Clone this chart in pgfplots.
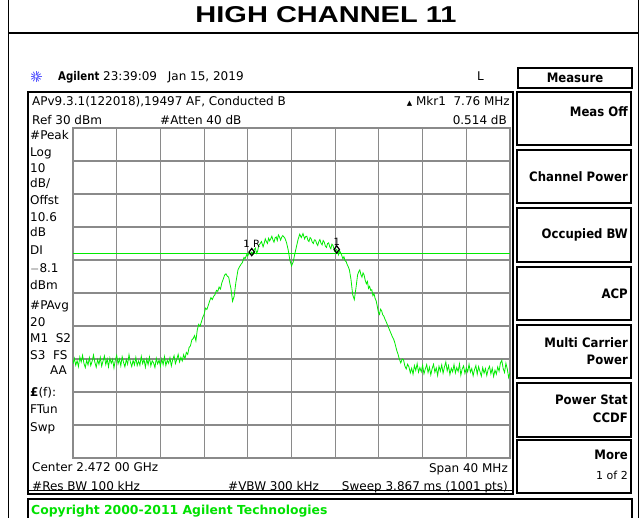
\documentclass[border=0pt]{standalone}
\usepackage{graphicx}
\usepackage{pgfplots}
\pgfplotsset{compat=1.18}
\usepackage{fontspec}
\setmainfont{DejaVu Sans}
\newfontfamily\tf{Liberation Sans}
\definecolor{trace}{RGB}{0,235,0}
\definecolor{gridc}{RGB}{138,138,138}
\definecolor{cgreen}{RGB}{0,225,0}
\definecolor{logo}{RGB}{90,90,255}
\newcommand\st{\fontsize{12}{14}\selectfont}
\newcommand\sk[1]{\scalebox{0.9}[1]{\fontsize{13}{15}\selectfont\bfseries #1}}

\pgfplotstableread{
x y
-20 -41.5
-19.875 -39.8
-19.75 -41.9
-19.625 -40.5
-19.5 -42.3
-19.375 -39.4
-19.25 -40.9
-19.125 -38.9
-19 -41.3
-18.875 -42.6
-18.75 -40.4
-18.625 -41.8
-18.5 -39.6
-18.375 -42.0
-18.25 -40.7
-18.125 -38.8
-18 -41.0
-17.875 -42.5
-17.75 -40.2
-17.625 -41.6
-17.5 -39.5
-17.375 -42.2
-17.25 -40.6
-17.125 -39.1
-17 -41.7
-16.875 -40.0
-16.75 -42.4
-16.625 -39.7
-16.5 -41.3
-16.375 -40.1
-16.25 -42.7
-16.125 -40.3
-16 -38.9
-15.875 -41.5
-15.75 -40.0
-15.625 -42.1
-15.5 -39.3
-15.375 -41.0
-15.25 -42.4
-15.125 -40.2
-15 -41.6
-14.875 -38.7
-14.75 -40.9
-14.625 -42.3
-14.5 -40.4
-14.375 -41.8
-14.25 -39.5
-14.125 -42.0
-14 -40.6
-13.875 -41.9
-13.75 -39.2
-13.625 -41.4
-13.5 -40.1
-13.375 -42.5
-13.25 -40.0
-13.125 -41.7
-13 -39.4
-12.875 -42.1
-12.75 -40.5
-12.625 -41.2
-12.5 -42.6
-12.375 -39.8
-12.25 -41.5
-12.125 -40.3
-12 -42.2
-11.875 -40.0
-11.75 -41.7
-11.625 -39.3
-11.5 -42.0
-11.375 -40.4
-11.25 -41.3
-11.125 -39.6
-11 -42.1
-10.875 -40.2
-10.75 -39.0
-10.625 -41.4
-10.5 -40.1
-10.375 -38.6
-10.25 -40.9
-10.125 -39.5
-10 -40.6
-9.875 -38.7
-9.75 -39.9
-9.625 -38.0
-9.5 -38.6
-9.375 -36.5
-9.25 -36.0
-9.125 -34.2
-9 -33.8
-8.875 -32.9
-8.75 -34.5
-8.625 -31.2
-8.5 -29.5
-8.375 -30.1
-8.25 -28.8
-8.125 -27.4
-8 -26.5
-7.875 -24.6
-7.75 -25.0
-7.625 -23.8
-7.5 -22.5
-7.375 -21.4
-7.25 -22.0
-7.125 -21.0
-7 -20.5
-6.875 -19.2
-6.75 -19.5
-6.625 -18.2
-6.5 -18.8
-6.375 -16.9
-6.25 -15.8
-6.125 -14.6
-6 -14.2
-5.875 -14.9
-5.75 -15.2
-5.65 -17.0
-5.55 -18.5
-5.4 -22.5
-5.25 -21.0
-5.1 -17.0
-4.9 -13.0
-4.75 -12.0
-4.6 -11.2
-4.5 -10.8
-4.35 -9.2
-4.25 -9.6
-4.1 -8.4
-4 -8.8
-3.9 -7.8
-3.8 -8.2
-3.64 -7.6
-3.5 -8.2
-3.4 -6.8
-3.3 -6.4
-3.2 -8.0
-3.1 -7.3
-3 -5.6
-2.9 -5.2
-2.75 -4.4
-2.6 -6.0
-2.5 -4.9
-2.4 -3.6
-2.3 -4.4
-2.2 -5.0
-2.1 -3.4
-2 -4.2
-1.9 -3.6
-1.8 -2.8
-1.7 -3.9
-1.6 -4.6
-1.5 -3.3
-1.4 -3.0
-1.3 -4.1
-1.2 -2.4
-1.1 -3.0
-1 -4.0
-0.9 -3.1
-0.8 -2.6
-0.7 -3.0
-0.6 -3.4
-0.45 -4.8
-0.3 -7.0
-0.15 -10.0
0 -11.8
0.15 -10.6
0.3 -8.2
0.45 -6.0
0.6 -3.8
0.75 -2.2
0.9 -3.2
1.05 -2.0
1.2 -3.6
1.3 -2.9
1.4 -2.8
1.5 -4.0
1.6 -4.4
1.7 -3.2
1.8 -3.6
1.9 -4.6
2 -5.0
2.1 -3.9
2.2 -4.0
2.3 -5.0
2.4 -5.6
2.5 -4.4
2.6 -3.8
2.7 -4.9
2.8 -5.4
2.9 -4.1
3 -4.6
3.1 -5.8
3.2 -6.2
3.3 -5.0
3.4 -4.8
3.5 -6.0
3.6 -6.6
3.7 -5.2
3.8 -5.6
3.95 -7.4
4.14 -6.8
4.3 -8.4
4.4 -7.2
4.5 -7.8
4.6 -8.6
4.7 -9.6
4.8 -9.0
4.9 -10.2
5 -10.5
5.1 -11.4
5.2 -12.1
5.3 -13.0
5.45 -16.0
5.6 -20.5
5.75 -22.0
5.9 -18.5
6.05 -14.5
6.15 -13.6
6.25 -13.0
6.35 -14.4
6.45 -15.2
6.55 -13.9
6.65 -14.6
6.75 -16.2
6.85 -17.2
6.95 -16.5
7.05 -18.6
7.15 -18.0
7.25 -19.2
7.35 -19.0
7.45 -20.8
7.55 -20.2
7.65 -21.6
7.75 -22.4
7.85 -24.0
7.95 -25.8
8.05 -26.5
8.15 -24.9
8.25 -25.4
8.35 -26.6
8.45 -27.0
8.55 -27.9
8.65 -28.6
8.75 -29.4
8.85 -30.2
8.95 -31.0
9.05 -31.8
9.15 -32.6
9.25 -33.4
9.35 -34.0
9.45 -35.0
9.55 -36.3
9.65 -37.6
9.75 -38.5
9.85 -39.8
10 -41.2
10.125 -40.0
10.25 -40.2
10.375 -42.1
10.5 -43.0
10.625 -41.6
10.75 -42.4
10.875 -44.2
11 -42.8
11.125 -44.6
11.25 -42.0
11.375 -43.5
11.5 -41.4
11.625 -44.0
11.75 -42.6
11.875 -43.9
12 -41.9
12.125 -44.5
12.25 -43.0
12.375 -41.7
12.5 -44.1
12.625 -42.5
12.75 -44.8
12.875 -42.9
13 -41.6
13.125 -44.0
13.25 -42.7
13.375 -45.0
13.5 -42.2
13.625 -43.7
13.75 -41.8
13.875 -44.3
14 -42.4
14.125 -40.9
14.25 -43.6
14.375 -42.0
14.5 -44.7
14.625 -42.8
14.75 -43.9
14.875 -41.7
15 -44.2
15.125 -42.6
15.25 -43.8
15.375 -41.5
15.5 -44.9
15.625 -43.0
15.75 -42.1
15.875 -44.4
16 -42.7
16.125 -43.9
16.25 -41.6
16.375 -44.0
16.5 -42.9
16.625 -45.1
16.75 -43.2
16.875 -42.0
17 -44.6
17.125 -42.3
17.25 -43.8
17.375 -45.2
17.5 -42.6
17.625 -44.3
17.75 -42.9
17.875 -45.0
18 -43.1
18.125 -42.2
18.25 -44.5
18.375 -42.8
18.5 -45.3
18.625 -43.4
18.75 -44.6
18.875 -42.4
19 -43.7
19.125 -41.2
19.25 -40.4
19.375 -42.9
19.5 -44.1
19.625 -41.3
19.75 -43.0
19.875 -45.6
20 -44.2
}\tracedata

\begin{document}
\begin{tikzpicture}
\begin{scope}[x=1pt,y=1pt]
\path[use as bounding box] (0,0) rectangle (639,-518);
% outer frame
\draw[line width=1.8pt] (8.5,0) -- (8.5,-518);
\draw[line width=1.8pt] (8.5,-33) -- (639,-33);
\draw[line width=1pt] (638.5,0) -- (638.5,-518);
\node at (326,-14.7) {\resizebox{261pt}{16pt}{\tf\bfseries HIGH CHANNEL 11}};
% header
\foreach \a in {0,30,...,330} {\draw[logo, line width=0.8pt] (36,-76.5) -- ++(\a:5.5);}
\fill[white] (36,-76.5) circle (1.5);
\node[anchor=base west, inner sep=0] at (58,-81) {\scalebox{0.85}[1]{\st\bfseries Agilent}};
\node[anchor=base west, inner sep=0] at (103,-81) {\st 23:39:09};
\node[anchor=base west, inner sep=0] at (167.7,-81) {\st Jan 15, 2019};
\node[anchor=base west, inner sep=0] at (477,-81) {\st L};
% status box
\draw[line width=1.2pt] (28,-92) rectangle (513,-494);
\draw[line width=0.8pt] (28,-490.5) -- (513,-490.5);
\node[anchor=base west, inner sep=0] at (32,-106) {\st APv9.3.1(122018),19497 AF, Conducted B};
\node[anchor=base west, inner sep=0] at (32,-124.5) {\st Ref 30 dBm};
\node[anchor=base west, inner sep=0] at (160,-124.5) {\st \#Atten 40 dB};
\node[anchor=base east, inner sep=0] at (510,-106) {\st {\fontsize{7}{8}\selectfont ▲} Mkr1\ \ 7.76 MHz};
\node[anchor=base east, inner sep=0] at (507,-124.5) {\st 0.514 dB};
% left column
\foreach \t/\yy in {{\#Peak}/135,{Log}/152,{10}/168,{dB/}/183,{Offst}/200,{10.6}/217,{dB}/232,{DI}/250,{$-$8.1}/268,{dBm}/285,{\#PAvg}/305,{20}/322,{M1\ \ S2}/338,{S3\ \ FS}/355,{\textbf{£}(f):}/392,{FTun}/409,{Swp}/427}
  {\node[anchor=base west, inner sep=0] at (30,-\yy-4.5) {\st \t};}
\node[anchor=base east, inner sep=0] at (67,-374.5) {\st AA};
% bottom annotations
\node[anchor=base west, inner sep=0] at (32,-471.5) {\st Center 2.472 00 GHz};
\node[anchor=base west, inner sep=0] at (32,-490) {\st \#Res BW 100 kHz};
\node[anchor=base east, inner sep=0] at (508,-472.5) {\st Span 40 MHz};
\node[anchor=base west, inner sep=0] at (228,-490) {\st \#VBW 300 kHz};
\node[anchor=base east, inner sep=0] at (508,-490) {\st Sweep 3.867 ms (1001 pts)};
% copyright bar
\draw[line width=1.8pt] (28,-499) rectangle (632,-522);
\node[anchor=base west, inner sep=0, text=cgreen] at (31,-514.5) {\fontsize{12.4}{14}\selectfont\bfseries Copyright 2000-2011 Agilent Technologies};
% softkeys
\draw[line width=1.5pt] (518,-68) rectangle (632,-88);
\node at (575,-78) {\sk{Measure}};
\foreach \ta/\tb in {92/145,150/203,208/262,267/320,325/378,383/437,440/493}
  {\draw[line width=1.5pt] (517,-\ta) rectangle (631,-\tb);}
\node[anchor=east, inner sep=0] at (628,-112) {\sk{Meas Off}};
\node[anchor=east, inner sep=0] at (628,-177) {\sk{Channel Power}};
\node[anchor=east, inner sep=0] at (628,-235) {\sk{Occupied BW}};
\node[anchor=east, inner sep=0] at (628,-294) {\sk{ACP}};
\node[anchor=east, inner sep=0] at (628,-342.7) {\sk{Multi Carrier}};
\node[anchor=east, inner sep=0] at (628,-360) {\sk{Power}};
\node[anchor=east, inner sep=0] at (628,-400) {\sk{Power Stat}};
\node[anchor=east, inner sep=0] at (628,-418) {\sk{CCDF}};
\node[anchor=east, inner sep=0] at (628,-455) {\sk{More}};
\node[anchor=east, inner sep=0] at (628,-475) {\fontsize{11}{13}\selectfont 1 of 2};
\end{scope}

\begin{axis}[at={(73pt,-458pt)}, anchor=south west, scale only axis,
  width=437pt, height=330pt,
  xmin=-20, xmax=20, ymin=-70, ymax=30,
  xtick={-16,-12,...,16}, ytick={-60,-50,...,20},
  xticklabels={}, yticklabels={}, major tick length=0pt,
  grid=major, grid style={gridc, line width=1.1pt},
  axis line style={gridc, line width=1.1pt}]
\addplot[trace, line width=0.9pt] coordinates {(-20,-8.1) (20,-8.1)};
\addplot[trace, line width=0.8pt] table[x=x, y=y] {\tracedata};
\addplot[only marks, mark=diamond, mark size=3.6pt, mark options={black, line width=1.2pt},
  nodes near coords={1 R}, nodes near coords align={above},
  every node near coord/.append style={black, font=\fontsize{10}{12}\selectfont, inner sep=1pt, yshift=2.5pt}]
  coordinates {(-3.64,-7.6)};
\addplot[only marks, mark=diamond, mark size=3.6pt, mark options={black, line width=1.2pt},
  nodes near coords={1}, nodes near coords align={above},
  every node near coord/.append style={black, font=\fontsize{10}{12}\selectfont, inner sep=1pt, yshift=2.5pt}]
  coordinates {(4.14,-6.8)};
\end{axis}
\end{tikzpicture}
\end{document}
